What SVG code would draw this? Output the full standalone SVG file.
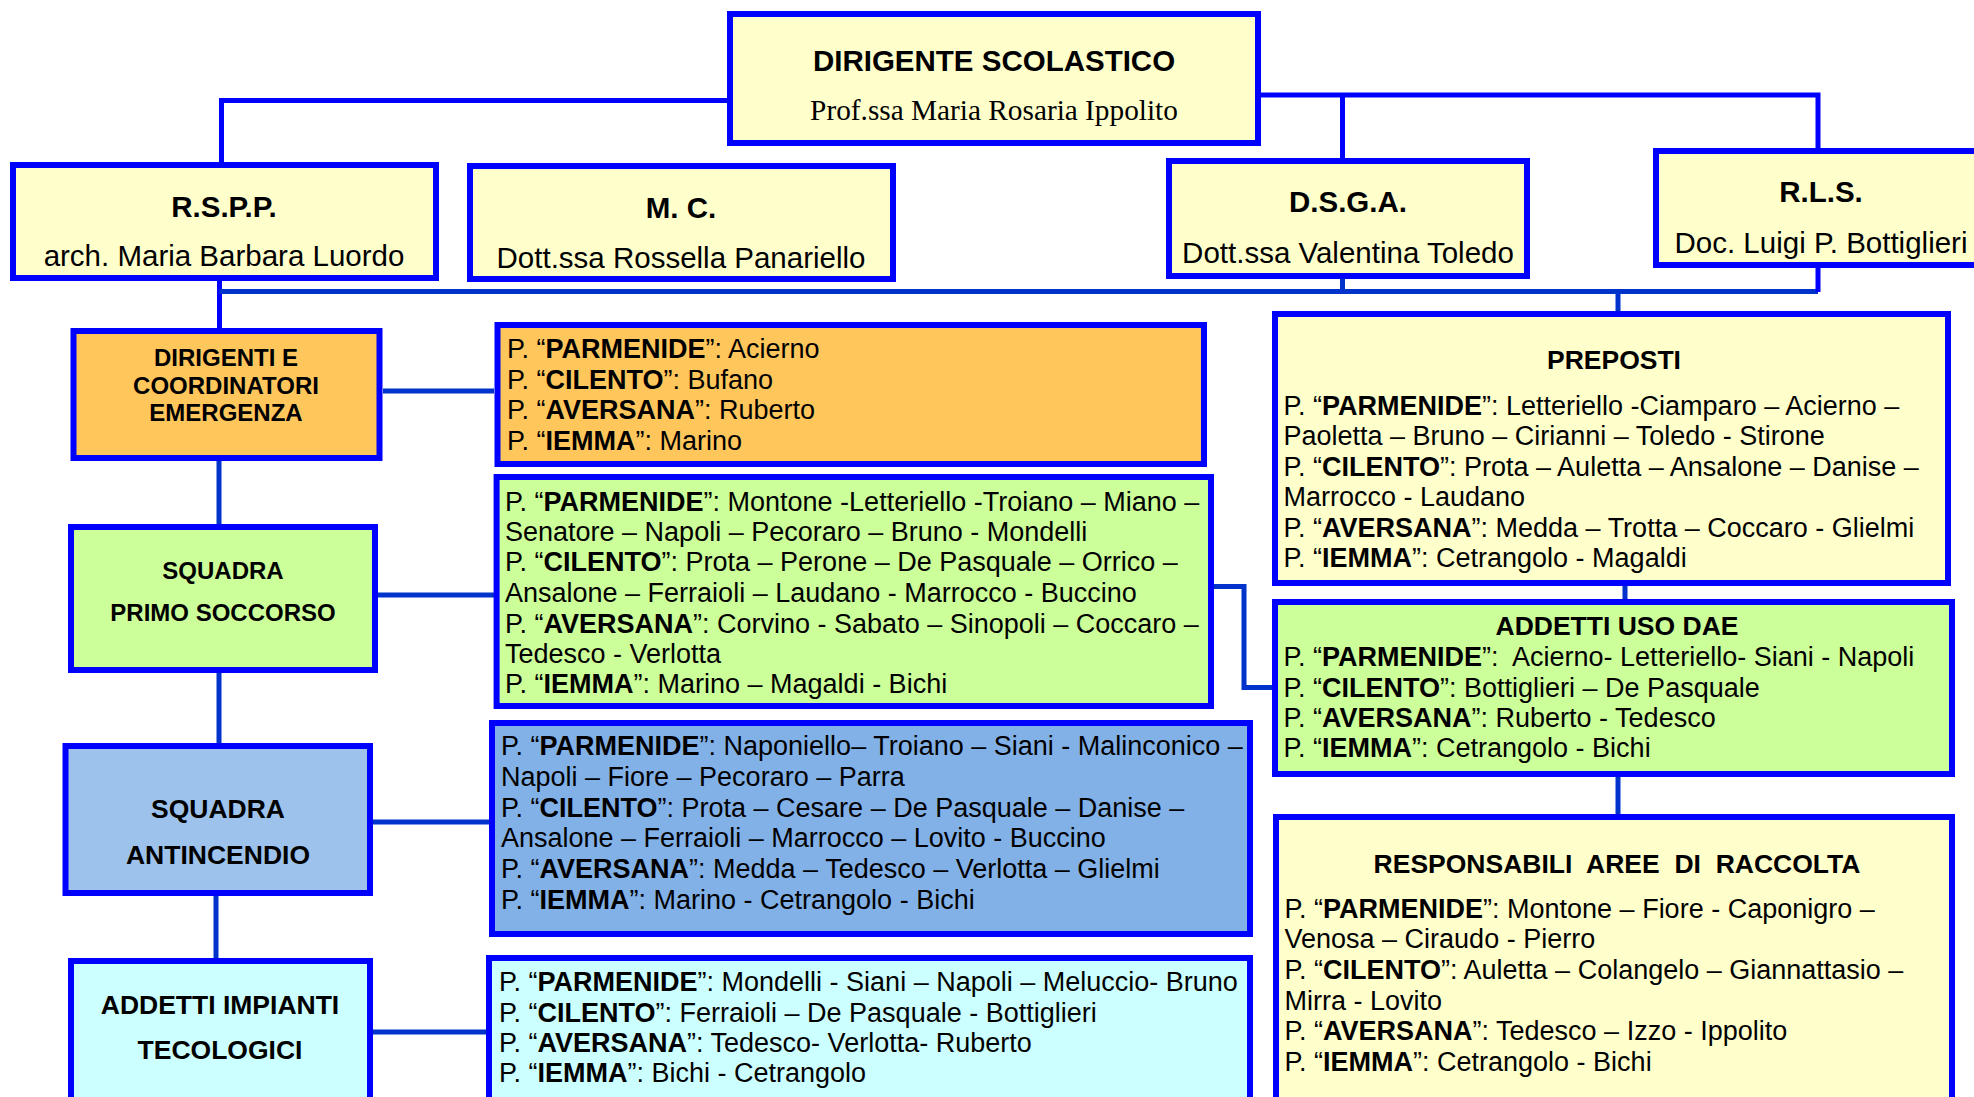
<svg xmlns="http://www.w3.org/2000/svg" width="1974" height="1097" viewBox="0 0 1974 1097">
<style>
.box{stroke:#0000FF;stroke-width:6}
.yel{fill:#FFFFCC}.org{fill:#FFC65C}.grn{fill:#CCFF99}.blu{fill:#9DC3EC}.blu2{fill:#82B1E8}.cya{fill:#CCFFFF}
.c1{stroke:#0000FF;stroke-width:5;fill:none}
.c2{stroke:#0033CC;stroke-width:5;fill:none}
text{font-family:"Liberation Sans",Arial,sans-serif;fill:#000}
.h29{font-size:29.5px;font-weight:bold;text-anchor:middle}
.n29{font-size:29.5px;text-anchor:middle}
.serif{font-family:"Liberation Serif","Times New Roman",serif;font-size:29.3px;text-anchor:middle}
.h22{font-size:24px;font-weight:bold;text-anchor:middle}
.h24{font-size:24px;font-weight:bold;text-anchor:middle}
.h26{font-size:26.5px;font-weight:bold;text-anchor:middle}
.l{font-size:27px}
.b{font-weight:bold}
</style>
<g id="connectors">
<path class="c1" d="M727,100.5 H221.5 V162"/>
<path class="c1" d="M1261,95 H1818 V148"/>
<path class="c1" d="M1342.5,95 V158"/>
<path class="c1" d="M219.5,281 V328"/>
<path class="c2" d="M219.5,291.5 H1818"/>
<path class="c2" d="M1342.5,279 V292"/>
<path class="c1" d="M1818,268 V292"/>
<path class="c2" d="M1618,291 V311"/>
<path class="c2" d="M219,461 V524"/>
<path class="c2" d="M219,673 V743"/>
<path class="c2" d="M216,896 V958"/>
<path class="c2" d="M383,391 H494"/>
<path class="c2" d="M378,595 H494"/>
<path class="c2" d="M373,822 H489"/>
<path class="c2" d="M373,1032 H486"/>
<path class="c2" d="M1214,586.5 H1244 V687.5 H1272"/>
<path class="c2" d="M1625,586 V599"/>
<path class="c2" d="M1618,777 V814"/>
</g>
<g id="dirigente">
<rect class="box yel" x="730" y="14" width="528" height="129"/>
<text class="h29" x="994" y="71">DIRIGENTE SCOLASTICO</text>
<text class="serif" x="994" y="120">Prof.ssa Maria Rosaria Ippolito</text>
</g>
<g id="rspp">
<rect class="box yel" x="13" y="165" width="423" height="113"/>
<text class="h29" x="224" y="217">R.S.P.P.</text>
<text class="n29" x="224" y="266">arch. Maria Barbara Luordo</text>
</g>
<g id="mc">
<rect class="box yel" x="470" y="166" width="423" height="113"/>
<text class="h29" x="681" y="218">M. C.</text>
<text class="n29" x="681" y="268">Dott.ssa Rossella Panariello</text>
</g>
<g id="dsga">
<rect class="box yel" x="1169" y="161" width="358" height="115"/>
<text class="h29" x="1348" y="212">D.S.G.A.</text>
<text class="n29" x="1348" y="263">Dott.ssa Valentina Toledo</text>
</g>
<g id="rls">
<rect class="box yel" x="1656" y="151" width="330" height="114"/>
<text class="h29" x="1821" y="202">R.L.S.</text>
<text class="n29" x="1821" y="253">Doc. Luigi P. Bottiglieri</text>
</g>
<g id="dirigenti-emergenza">
<rect class="box org" x="73.5" y="331" width="306" height="127"/>
<text class="h22" x="226" y="366">DIRIGENTI E</text>
<text class="h22" x="226" y="394">COORDINATORI</text>
<text class="h22" x="226" y="421">EMERGENZA</text>
</g>
<g id="primo-soccorso">
<rect class="box grn" x="71" y="527" width="304" height="143"/>
<text class="h24" x="223" y="579">SQUADRA</text>
<text class="h24" x="223" y="621">PRIMO SOCCORSO</text>
</g>
<g id="antincendio">
<rect class="box blu" x="65.5" y="746" width="304.5" height="147"/>
<text class="h26" x="218" y="818">SQUADRA</text>
<text class="h26" x="218" y="864">ANTINCENDIO</text>
</g>
<g id="impianti">
<rect class="box cya" x="71" y="961" width="299" height="150"/>
<text class="h26" x="220" y="1014">ADDETTI IMPIANTI</text>
<text class="h26" x="220" y="1059">TECOLOGICI</text>
</g>
<g id="list-emergenza">
<rect class="box org" x="497.5" y="325" width="706.5" height="139"/>
<text class="l" x="507" y="358">P. “<tspan class="b">PARMENIDE</tspan>”: Acierno</text>
<text class="l" x="507" y="389">P. “<tspan class="b">CILENTO</tspan>”: Bufano</text>
<text class="l" x="507" y="419">P. “<tspan class="b">AVERSANA</tspan>”: Ruberto</text>
<text class="l" x="507" y="450">P. “<tspan class="b">IEMMA</tspan>”: Marino</text>
</g>
<g id="list-soccorso">
<rect class="box grn" x="496.6" y="477" width="714.4" height="229"/>
<text class="l" x="505" y="511">P. “<tspan class="b">PARMENIDE</tspan>”: Montone -Letteriello -Troiano – Miano –</text>
<text class="l" x="505" y="541">Senatore – Napoli – Pecoraro – Bruno - Mondelli</text>
<text class="l" x="505" y="571">P. “<tspan class="b">CILENTO</tspan>”: Prota – Perone – De Pasquale – Orrico –</text>
<text class="l" x="505" y="602">Ansalone – Ferraioli – Laudano - Marrocco - Buccino</text>
<text class="l" x="505" y="633">P. “<tspan class="b">AVERSANA</tspan>”: Corvino - Sabato – Sinopoli – Coccaro –</text>
<text class="l" x="505" y="663">Tedesco - Verlotta</text>
<text class="l" x="505" y="693">P. “<tspan class="b">IEMMA</tspan>”: Marino – Magaldi - Bichi</text>
</g>
<g id="list-antincendio">
<rect class="box blu2" x="492" y="723" width="758" height="211"/>
<text class="l" x="501" y="755">P. “<tspan class="b">PARMENIDE</tspan>”: Naponiello– Troiano – Siani - Malinconico –</text>
<text class="l" x="501" y="786">Napoli – Fiore – Pecoraro – Parra</text>
<text class="l" x="501" y="817">P. “<tspan class="b">CILENTO</tspan>”: Prota – Cesare – De Pasquale – Danise –</text>
<text class="l" x="501" y="847">Ansalone – Ferraioli – Marrocco – Lovito - Buccino</text>
<text class="l" x="501" y="878">P. “<tspan class="b">AVERSANA</tspan>”: Medda – Tedesco – Verlotta – Glielmi</text>
<text class="l" x="501" y="909">P. “<tspan class="b">IEMMA</tspan>”: Marino - Cetrangolo - Bichi</text>
</g>
<g id="list-impianti">
<rect class="box cya" x="489" y="958" width="761" height="150"/>
<text class="l" x="499" y="991">P. “<tspan class="b">PARMENIDE</tspan>”: Mondelli - Siani – Napoli – Meluccio- Bruno</text>
<text class="l" x="499" y="1022">P. “<tspan class="b">CILENTO</tspan>”: Ferraioli – De Pasquale - Bottiglieri</text>
<text class="l" x="499" y="1052">P. “<tspan class="b">AVERSANA</tspan>”: Tedesco- Verlotta- Ruberto</text>
<text class="l" x="499" y="1082">P. “<tspan class="b">IEMMA</tspan>”: Bichi - Cetrangolo</text>
</g>
<g id="preposti">
<rect class="box yel" x="1275" y="314" width="673" height="269"/>
<text class="h26" x="1614" y="369">PREPOSTI</text>
<text class="l" x="1283.5" y="415">P. “<tspan class="b">PARMENIDE</tspan>”: Letteriello -Ciamparo – Acierno –</text>
<text class="l" x="1283.5" y="445">Paoletta – Bruno – Cirianni – Toledo - Stirone</text>
<text class="l" x="1283.5" y="476">P. “<tspan class="b">CILENTO</tspan>”: Prota – Auletta – Ansalone – Danise –</text>
<text class="l" x="1283.5" y="506">Marrocco - Laudano</text>
<text class="l" x="1283.5" y="537">P. “<tspan class="b">AVERSANA</tspan>”: Medda – Trotta – Coccaro - Glielmi</text>
<text class="l" x="1283.5" y="567">P. “<tspan class="b">IEMMA</tspan>”: Cetrangolo - Magaldi</text>
</g>
<g id="dae">
<rect class="box grn" x="1275" y="602" width="677" height="172"/>
<text class="h26" x="1617" y="635">ADDETTI USO DAE</text>
<text class="l" x="1283.5" y="666" xml:space="preserve">P. “<tspan class="b">PARMENIDE</tspan>”:  Acierno- Letteriello- Siani - Napoli</text>
<text class="l" x="1283.5" y="697">P. “<tspan class="b">CILENTO</tspan>”: Bottiglieri – De Pasquale</text>
<text class="l" x="1283.5" y="727">P. “<tspan class="b">AVERSANA</tspan>”: Ruberto - Tedesco</text>
<text class="l" x="1283.5" y="757">P. “<tspan class="b">IEMMA</tspan>”: Cetrangolo - Bichi</text>
</g>
<g id="raccolta">
<rect class="box yel" x="1276" y="817" width="676" height="300"/>
<text class="h26" x="1617" y="873" xml:space="preserve">RESPONSABILI  AREE  DI  RACCOLTA</text>
<text class="l" x="1284.5" y="918">P. “<tspan class="b">PARMENIDE</tspan>”: Montone – Fiore - Caponigro –</text>
<text class="l" x="1284.5" y="948">Venosa – Ciraudo - Pierro</text>
<text class="l" x="1284.5" y="979">P. “<tspan class="b">CILENTO</tspan>”: Auletta – Colangelo – Giannattasio –</text>
<text class="l" x="1284.5" y="1010">Mirra - Lovito</text>
<text class="l" x="1284.5" y="1040">P. “<tspan class="b">AVERSANA</tspan>”: Tedesco – Izzo - Ippolito</text>
<text class="l" x="1284.5" y="1071">P. “<tspan class="b">IEMMA</tspan>”: Cetrangolo - Bichi</text>
</g>
</svg>
